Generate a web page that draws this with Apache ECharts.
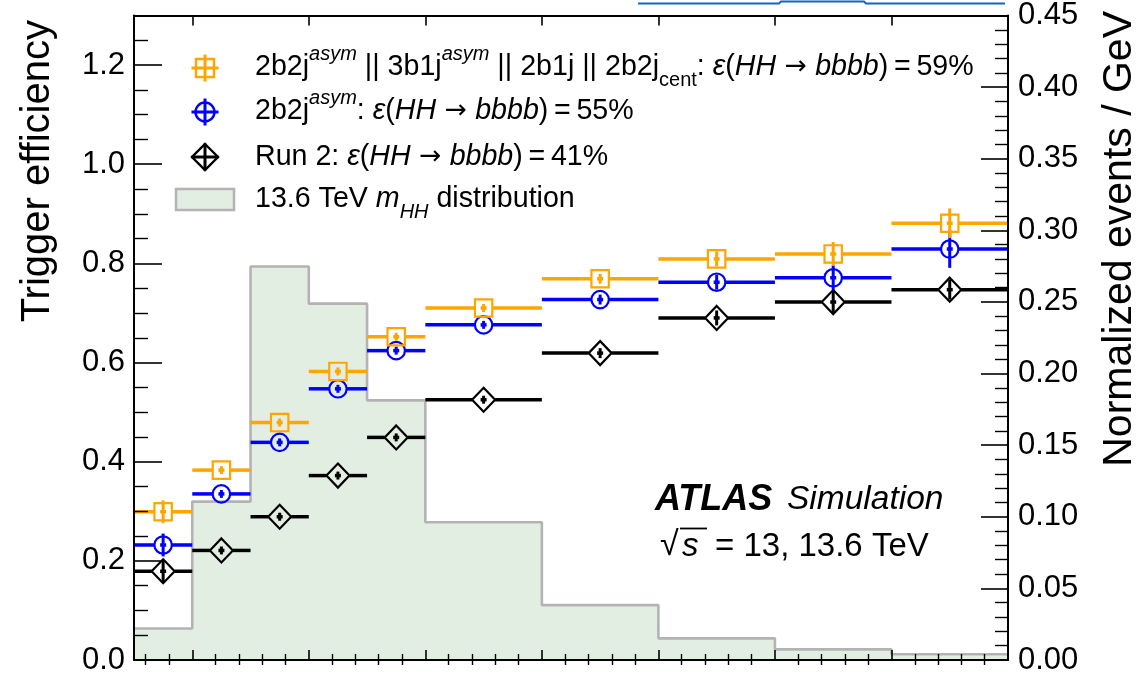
<!DOCTYPE html>
<html>
<head>
<meta charset="utf-8">
<script src="https://cdn.jsdelivr.net/npm/echarts@6/dist/echarts.min.js"></script>
<style>
html,body{margin:0;padding:0;background:#fff;}
#chart{width:1140px;height:678px;}
</style>
</head>
<body>
<div id="chart"></div>
<script>
// ---- data ----
const binLow  = [250, 300, 350, 400, 450, 500, 600, 700, 800, 900];
const binHigh = [300, 350, 400, 450, 500, 600, 700, 800, 900, 1000];

const effCombined = [0.299, 0.383, 0.479, 0.582, 0.652, 0.710, 0.769, 0.809, 0.819, 0.881];
const errCombined = [0.023, 0.008, 0.008, 0.008, 0.008, 0.008, 0.010, 0.015, 0.024, 0.030];

const effAsym = [0.232, 0.335, 0.439, 0.547, 0.624, 0.676, 0.727, 0.762, 0.771, 0.829];
const errAsym = [0.023, 0.008, 0.008, 0.008, 0.008, 0.008, 0.010, 0.015, 0.025, 0.038];

const effRun2 = [0.179, 0.221, 0.289, 0.372, 0.449, 0.525, 0.619, 0.690, 0.722, 0.747];
const errRun2 = [0.023, 0.008, 0.008, 0.008, 0.008, 0.008, 0.010, 0.015, 0.022, 0.020];

const mhhDist = [0.0220, 0.1106, 0.2747, 0.2488, 0.1813, 0.0962, 0.0383, 0.0151, 0.0074, 0.0040];

const xMajorTicks = [300, 400, 500, 600, 700, 800, 900];
const xMinorTicks = [260, 280, 320, 340, 360, 380, 420, 440, 460, 480, 520, 540, 560, 580, 620, 640, 660, 680, 720, 740, 760, 780, 820, 840, 860, 880, 920, 940, 960, 980];
const effMajorTicks = [0, 0.2, 0.4, 0.6, 0.8, 1.0, 1.2];
const effMinorTicks = [0.05, 0.1, 0.15, 0.25, 0.3, 0.35, 0.45, 0.5, 0.55, 0.65, 0.7, 0.75, 0.85, 0.9, 0.95, 1.05, 1.1, 1.15, 1.25];

const FONT = "'Liberation Sans', Arial, Helvetica, sans-serif";
const ORANGE = '#ffa500', BLUE = '#0000ff', BLACK = '#000000';

function errSeries(name, vals, errs, color, shape) {
  const data = vals.map((v, i) => [binLow[i], binHigh[i], v, errs[i]]);
  return {
    type: 'custom', name: name, xAxisIndex: 0, yAxisIndex: 0, z: 5,
    data: data, encode: { x: [0, 1], y: 2 }, clip: false, silent: true,
    renderItem: function (params, api) {
      const lo = api.value(0), hi = api.value(1), y = api.value(2), e = api.value(3);
      const xc = (lo + hi) / 2;
      const pL = api.coord([lo, y]), pR = api.coord([hi, y]), pC = api.coord([xc, y]);
      const pT = api.coord([xc, y + e]), pB = api.coord([xc, y - e]);
      const cx = pC[0], cy = pC[1];
      let hw = 8.7, hh = 8.7;
      if (shape === 'diamond') { hw = 11.5; hh = 12; }
      const lw = 3.5;
      const st = { stroke: color, lineWidth: lw };
      const top = Math.min(pT[1], cy - 3), bot = Math.max(pB[1], cy + 3);
      const children = [
        { type: 'line', shape: { x1: pL[0], y1: cy, x2: cx - hw, y2: cy }, style: st },
        { type: 'line', shape: { x1: cx + hw, y1: cy, x2: pR[0], y2: cy }, style: st },
        { type: 'line', shape: { x1: cx - 3, y1: cy, x2: cx + 3, y2: cy }, style: st },
        { type: 'line', shape: { x1: cx, y1: top, x2: cx, y2: bot }, style: { stroke: color, lineWidth: 3 } }
      ];
      const ms = { fill: 'none', stroke: color, lineWidth: 2.2 };
      if (shape === 'square') children.push({ type: 'rect', shape: { x: cx - hw, y: cy - hh, width: 2 * hw, height: 2 * hh }, style: ms });
      else if (shape === 'circle') children.push({ type: 'circle', shape: { cx: cx, cy: cy, r: hw }, style: ms });
      else children.push({ type: 'polygon', shape: { points: [[cx, cy - hh], [cx + hw, cy], [cx, cy + hh], [cx - hw, cy]] }, style: ms });
      return { type: 'group', children: children };
    }
  };
}

function legendIcon(cx, cy, color, shape) {
  const st = { stroke: color, lineWidth: 3 };
  const ms = { fill: 'none', stroke: color, lineWidth: 2.4 };
  const items = [
    { type: 'line', shape: { x1: cx - 13.5, y1: cy, x2: cx + 13.5, y2: cy }, style: st },
    { type: 'line', shape: { x1: cx, y1: cy - 13.5, x2: cx, y2: cy + 13.5 }, style: st }
  ];
  if (shape === 'square') items.push({ type: 'rect', shape: { x: cx - 9, y: cy - 9, width: 18, height: 18 }, style: ms });
  else if (shape === 'circle') items.push({ type: 'circle', shape: { cx: cx, cy: cy, r: 9.5 }, style: ms });
  else items.push({ type: 'polygon', shape: { points: [[cx, cy - 13], [cx + 13, cy], [cx, cy + 13], [cx - 13, cy]] }, style: ms });
  return { type: 'group', children: items, z: 100 };
}

const LF = 28.6;
const richStyles = {
  n: { fontSize: LF, fontFamily: FONT, color: '#000', lineHeight: 46 },
  i: { fontSize: LF, fontFamily: FONT, fontStyle: 'italic', color: '#000', lineHeight: 46 },
  ar: { fontSize: 26.5, fontFamily: "'DejaVu Sans', sans-serif", color: '#000', lineHeight: 46 },
  sup: { fontSize: 20, fontFamily: FONT, fontStyle: 'italic', color: '#000', lineHeight: 28, verticalAlign: 'top' },
  sub: { fontSize: 20, fontFamily: FONT, color: '#000', lineHeight: 26, verticalAlign: 'bottom' },
  subi: { fontSize: 20, fontFamily: FONT, fontStyle: 'italic', color: '#000', lineHeight: 26, verticalAlign: 'bottom' }
};

const TS = '\u2009';
function formula(pct) {
  return '{i|ε}{n|(}{i|HH}{ar| → }{i|bbbb}{n|)' + TS + '=' + TS + pct + '}';
}

function legendText(x, y, text) {
  return { type: 'text', x: x, y: y, z: 100, style: { text: text, rich: richStyles, align: 'left', verticalAlign: 'middle', fontSize: LF, fontFamily: FONT } };
}

const histData = binLow.map((x, i) => [x, mhhDist[i]]).concat([[binHigh[binHigh.length - 1], mhhDist[mhhDist.length - 1]]]);

const axisBlack = { color: '#000', width: 2 };

const option = {
  animation: false,
  backgroundColor: '#fff',
  grid: { left: 134, right: 132, top: 13, bottom: 18, containLabel: false },
  xAxis: [
    { type: 'value', position: 'bottom', min: 250, max: 1000, z: 10,
      axisLine: { show: true, onZero: false, lineStyle: axisBlack },
      axisTick: { show: true, inside: true, length: 10, customValues: xMajorTicks, lineStyle: { color: '#000', width: 1.6 } },
      axisLabel: { show: false }, splitLine: { show: false } },
    { type: 'value', position: 'top', min: 250, max: 1000, z: 10,
      axisLine: { show: true, onZero: false, lineStyle: axisBlack },
      axisTick: { show: true, inside: true, length: 10, customValues: xMajorTicks, lineStyle: { color: '#000', width: 1.6 } },
      axisLabel: { show: false }, splitLine: { show: false } },
    { type: 'value', position: 'bottom', min: 250, max: 1000, z: 10,
      axisLine: { show: false },
      axisTick: { show: true, inside: true, length: 6, customValues: xMinorTicks, lineStyle: { color: '#000', width: 1.4 } },
      axisLabel: { show: false }, splitLine: { show: false } },
    { type: 'value', position: 'top', min: 250, max: 1000, z: 10,
      axisLine: { show: false },
      axisTick: { show: true, inside: true, length: 5, customValues: xMinorTicks, lineStyle: { color: '#000', width: 1.4 } },
      axisLabel: { show: false }, splitLine: { show: false } }
  ],
  yAxis: [
    { type: 'value', position: 'left', min: 0, max: 1.3, z: 10,
      axisLine: { show: true, onZero: false, lineStyle: axisBlack },
      axisTick: { show: true, inside: true, length: 28, customValues: effMajorTicks, lineStyle: { color: '#000', width: 1.6 } },
      axisLabel: { show: true, customValues: effMajorTicks, margin: 9, color: '#000', fontSize: 31, fontFamily: FONT,
        formatter: function (v) { return Number(v).toFixed(1); } },
      splitLine: { show: false } },
    { type: 'value', position: 'right', min: 0, max: 0.45, interval: 0.05, z: 10,
      axisLine: { show: true, onZero: false, lineStyle: axisBlack },
      axisTick: { show: true, inside: true, length: 27, lineStyle: { color: '#000', width: 1.6 } },
      minorTick: { show: true, splitNumber: 5, length: 13, lineStyle: { color: '#000', width: 1.4 } },
      axisLabel: { show: true, margin: 10, color: '#000', fontSize: 31, fontFamily: FONT,
        formatter: function (v) { return Number(v).toFixed(2); } },
      splitLine: { show: false }, minorSplitLine: { show: false } },
    { type: 'value', position: 'left', min: 0, max: 1.3, z: 10,
      axisLine: { show: false },
      axisTick: { show: true, inside: true, length: 14, customValues: effMinorTicks, lineStyle: { color: '#000', width: 1.4 } },
      axisLabel: { show: false }, splitLine: { show: false } }
  ],
  series: [
    { type: 'line', name: '13.6 TeV mHH distribution', xAxisIndex: 0, yAxisIndex: 1, step: 'end', symbol: 'none',
      data: histData, z: 1, silent: true,
      lineStyle: { color: '#b3b3b3', width: 2.6 },
      areaStyle: { color: '#e3eee3', opacity: 1 } },
    errSeries('Run 2', effRun2, errRun2, BLACK, 'diamond'),
    errSeries('2b2j asym', effAsym, errAsym, BLUE, 'circle'),
    errSeries('combined', effCombined, errCombined, ORANGE, 'square')
  ],
  graphic: [
    // axis titles
    { type: 'text', x: 38, y: 20, rotation: Math.PI / 2, z: 100,
      style: { text: 'Trigger efficiency', fontSize: 40, fontFamily: FONT, fill: '#000', align: 'right', verticalAlign: 'middle' } },
    { type: 'text', x: 1120, y: 11, rotation: Math.PI / 2, z: 100,
      style: { text: 'Normalized events / GeV', fontSize: 41, fontFamily: FONT, fill: '#000', align: 'right', verticalAlign: 'middle' } },
    // legend
    legendIcon(205, 68, ORANGE, 'square'),
    legendText(255, 67, '{n|2b2j}{sup|asym}{n| || 3b1j}{sup|asym}{n| || 2b1j || 2b2j}{sub|cent}{n|: }' + formula('59%')),
    legendIcon(205, 112, BLUE, 'circle'),
    legendText(255, 111, '{n|2b2j}{sup|asym}{n|: }' + formula('55%')),
    legendIcon(205, 157, BLACK, 'diamond'),
    legendText(255, 157, '{n|Run 2: }' + formula('41%')),
    { type: 'rect', z: 100, shape: { x: 176, y: 189, width: 58, height: 21 }, style: { fill: '#e3eee3', stroke: '#b3b3b3', lineWidth: 2.5 } },
    legendText(255, 199, '{n|13.6 TeV }{i|m}{subi|HH}{n| distribution}'),
    // ATLAS label
    { type: 'text', x: 655, y: 500, z: 100,
      style: { text: 'ATLAS', align: 'left', verticalAlign: 'middle', fontSize: 36, fontFamily: FONT, fontWeight: 'bold', fontStyle: 'italic', fill: '#000' } },
    { type: 'text', x: 787, y: 500, z: 100,
      style: { text: 'Simulation', align: 'left', verticalAlign: 'middle', fontSize: 33.5, fontFamily: FONT, fontStyle: 'italic', fill: '#000' } },
    { type: 'text', x: 660, y: 546, z: 100,
      style: { text: '√', align: 'left', verticalAlign: 'middle', fontSize: 34, fontFamily: FONT, fill: '#000' } },
    { type: 'text', x: 682, y: 547, z: 100,
      style: { text: 's', align: 'left', verticalAlign: 'middle', fontSize: 33, fontFamily: FONT, fontStyle: 'italic', fill: '#000' } },
    { type: 'text', x: 715, y: 547, z: 100,
      style: { text: '= 13, 13.6 TeV', align: 'left', verticalAlign: 'middle', fontSize: 33, fontFamily: FONT, fill: '#000' } },
    { type: 'line', z: 100, shape: { x1: 680, y1: 528.5, x2: 707, y2: 528.5 }, style: { stroke: '#000', lineWidth: 1.8 } },
    // cropped blue box edge at the very top
    { type: 'polyline', z: 100, shape: { points: [[638, 3.5], [779, 3.5], [781, 1.5], [864, 1.5], [866, 3.5], [1005, 3.5]] },
      style: { stroke: '#1565c0', lineWidth: 2, fill: 'none' } }
  ]
};

const chart = echarts.init(document.getElementById('chart'), null, { renderer: 'canvas' });
chart.setOption(option);
</script>
</body>
</html>
